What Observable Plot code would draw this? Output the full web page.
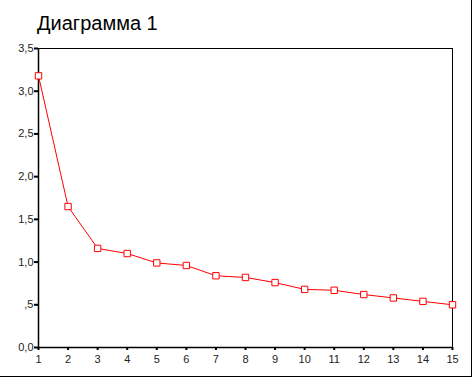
<!DOCTYPE html>
<html>
<head>
<meta charset="utf-8">
<script src="https://cdn.jsdelivr.net/npm/d3@7"></script>
<script src="https://cdn.jsdelivr.net/npm/@observablehq/plot@0.6"></script>
<style>
  body { margin: 0; background: #fff; }
  #wrap { position: relative; width: 471px; height: 376px; border-right: 1px solid #000; border-bottom: 1px solid #000; overflow: hidden; }
  #title { position: absolute; left: 37px; top: 12px; font: 20px "Liberation Sans", Arial, sans-serif; color: #000; margin: 0; }
  svg { display: block; }
</style>
</head>
<body>
<div id="wrap"><div id="title">Диаграмма 1</div></div>
<script>
const components = [1,2,3,4,5,6,7,8,9,10,11,12,13,14,15];
const values = [3.18,1.65,1.16,1.10,0.99,0.96,0.84,0.82,0.76,0.68,0.67,0.62,0.58,0.54,0.50];
const yTicks = [0,0.5,1,1.5,2,2.5,3,3.5];
const yTickLabels = ["0,0",",5","1,0","1,5","2,0","2,5","3,0","3,5"];

const data = components.map((c, i) => ({c, v: values[i]}));

const chart = Plot.plot({
  width: 471,
  height: 376,
  marginLeft: 38,
  marginRight: 19,
  marginTop: 48,
  marginBottom: 29,
  style: {fontFamily: '"Liberation Sans", Arial, sans-serif', fontSize: "11px", color: "#222", background: "transparent"},
  x: {domain: [1, 15]},
  y: {domain: [0, 3.5]},
  marks: [
    Plot.frame({stroke: "#000", strokeWidth: 1}),
    Plot.axisY({ticks: yTicks, tickSize: 4, strokeWidth: 2, stroke: "#000", tickPadding: 1,
      tickFormat: d => yTickLabels[yTicks.indexOf(d)], label: null}),
    Plot.axisX({ticks: components, tickSize: 3, strokeWidth: 2, stroke: "#000", tickPadding: 5,
      tickFormat: d => String(d), label: null}),
    Plot.ruleX([1], {stroke: "#000", strokeWidth: 1.5}),
    Plot.ruleY([0], {stroke: "#000", strokeWidth: 1.5}),
    Plot.line(data, {x: "c", y: "v", stroke: "#ff0000", strokeWidth: 1}),
    Plot.dot(data, {x: "c", y: "v", symbol: "square", r: 3.6, stroke: "#ff0000", fill: "#fff", strokeWidth: 1})
  ]
});
document.getElementById("wrap").appendChild(chart);
</script>
</body>
</html>
